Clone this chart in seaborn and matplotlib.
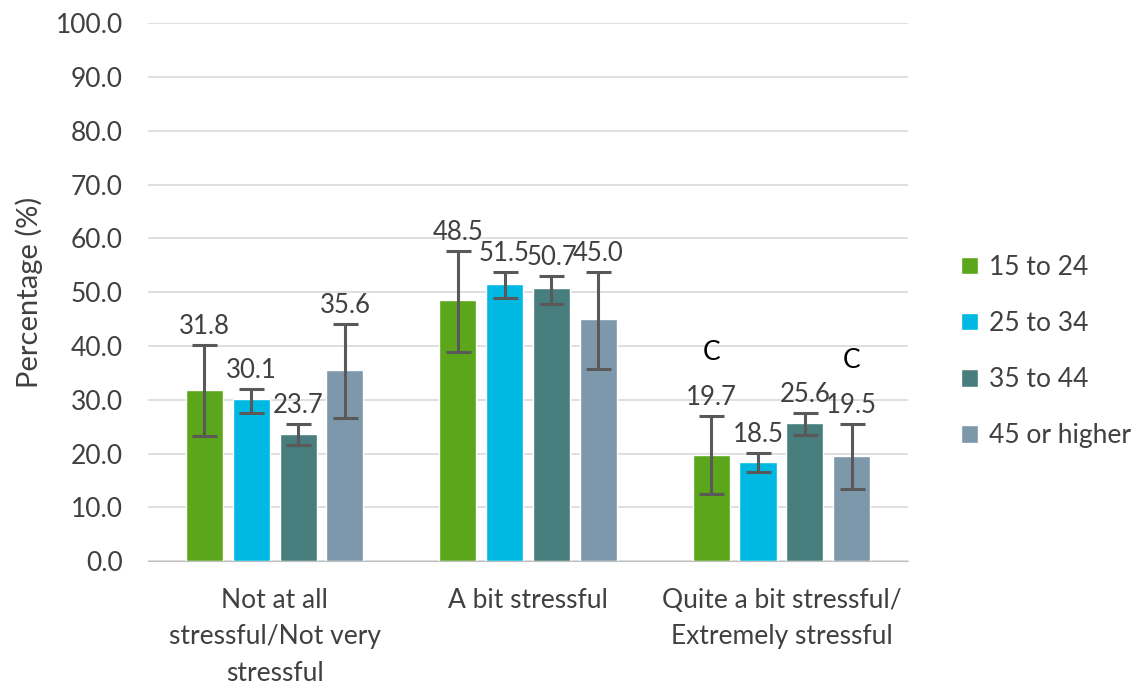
import matplotlib
matplotlib.use("Agg")
import matplotlib.pyplot as plt
import numpy as np
import pandas as pd
import seaborn as sns

CATEGORIES = [
    "Not at all\nstressful/Not very\nstressful",
    "A bit stressful",
    "Quite a bit stressful/\nExtremely stressful",
]
AGE_GROUPS = ["15 to 24", "25 to 34", "35 to 44", "45 or higher"]
COLORS = ["#5BA61A", "#00B9E2", "#487E7D", "#7D98AB"]

# percentages per age group, one value per category
VALUES = {
    "15 to 24": [31.8, 48.5, 19.7],
    "25 to 34": [30.1, 51.5, 18.5],
    "35 to 44": [23.7, 50.7, 25.6],
    "45 or higher": [35.6, 45.0, 19.5],
}
# 95% CI bounds
LOWER = {
    "15 to 24": [23.2, 38.9, 12.4],
    "25 to 34": [27.6, 48.9, 16.5],
    "35 to 44": [21.6, 47.9, 23.4],
    "45 or higher": [26.7, 35.7, 13.5],
}
UPPER = {
    "15 to 24": [40.2, 57.6, 27.0],
    "25 to 34": [32.0, 53.7, 20.1],
    "35 to 44": [25.5, 53.0, 27.6],
    "45 or higher": [44.1, 53.7, 25.5],
}
# "C" = use with caution
FLAGS = {
    "15 to 24": ["", "", "C"],
    "25 to 34": ["", "", ""],
    "35 to 44": ["", "", ""],
    "45 or higher": ["", "", "C"],
}

rows = []
for g in AGE_GROUPS:
    for i, c in enumerate(CATEGORIES):
        rows.append({"category": c, "age": g, "value": VALUES[g][i],
                     "lo": LOWER[g][i], "hi": UPPER[g][i], "flag": FLAGS[g][i]})
df = pd.DataFrame(rows)

sns.set_style("white")
plt.rcParams["font.family"] = ["Lato", "DejaVu Sans"]
TEXT = "#404040"
FS = 19

fig = plt.figure(figsize=(11.38, 6.86), dpi=100)
ax = fig.add_axes([0.130, 0.182, 0.668, 0.784])

sns.barplot(data=df, x="category", y="value", hue="age", order=CATEGORIES,
            hue_order=AGE_GROUPS, palette=COLORS, width=0.74, gap=0.21,
            errorbar=None, saturation=1, ax=ax)

for container, g in zip(ax.containers, AGE_GROUPS):
    sub = df[df["age"] == g].set_index("category").loc[CATEGORIES]
    for bar, (_, r) in zip(container, sub.iterrows()):
        x = bar.get_x() + bar.get_width() / 2
        ax.errorbar(x, r["value"], yerr=[[r["value"] - r["lo"]], [r["hi"] - r["value"]]],
                    fmt="none", ecolor="#595959", elinewidth=2.2, capsize=9, capthick=2.2)
        ax.annotate(f"{r['value']:.1f}", (x, r["hi"]), xytext=(0, 8),
                    textcoords="offset points", ha="center", va="baseline",
                    fontsize=FS - 0.5, color=TEXT)
        if r["flag"]:
            ax.annotate(r["flag"], (x, r["hi"]), xytext=(0, 40),
                        textcoords="offset points", ha="center", va="baseline",
                        fontsize=FS, color="black")

ax.set_ylim(0, 100)
ax.set_yticks(np.arange(0, 101, 10))
ax.set_yticklabels([f"{v:.1f}" for v in np.arange(0, 101, 10)])
ax.yaxis.grid(True, color="#D9D9D9", linewidth=1.2)
ax.set_axisbelow(True)
for side in ["top", "right", "left"]:
    ax.spines[side].set_visible(False)
ax.spines["bottom"].set_color("#BFBFBF")
ax.tick_params(axis="y", length=0, labelsize=FS, labelcolor=TEXT, pad=18)
ax.tick_params(axis="x", length=0, labelsize=FS, labelcolor=TEXT, pad=19)
for lbl in ax.get_xticklabels():
    lbl.set_linespacing(1.58)
ax.set_xlabel("")
ax.set_ylabel("Percentage (%)", fontsize=FS + 2, color=TEXT, labelpad=9)
ax.set_xlim(-0.5, 2.5)

handles, labels = ax.get_legend_handles_labels()
ax.legend(handles, labels, loc="center left", bbox_to_anchor=(1.07, 0.39),
          borderaxespad=0, borderpad=0, frameon=False, fontsize=FS, labelcolor=TEXT,
          handlelength=0.65, handleheight=0.65, handletextpad=0.4, labelspacing=1.18)

fig.savefig("out.png", dpi=100)
